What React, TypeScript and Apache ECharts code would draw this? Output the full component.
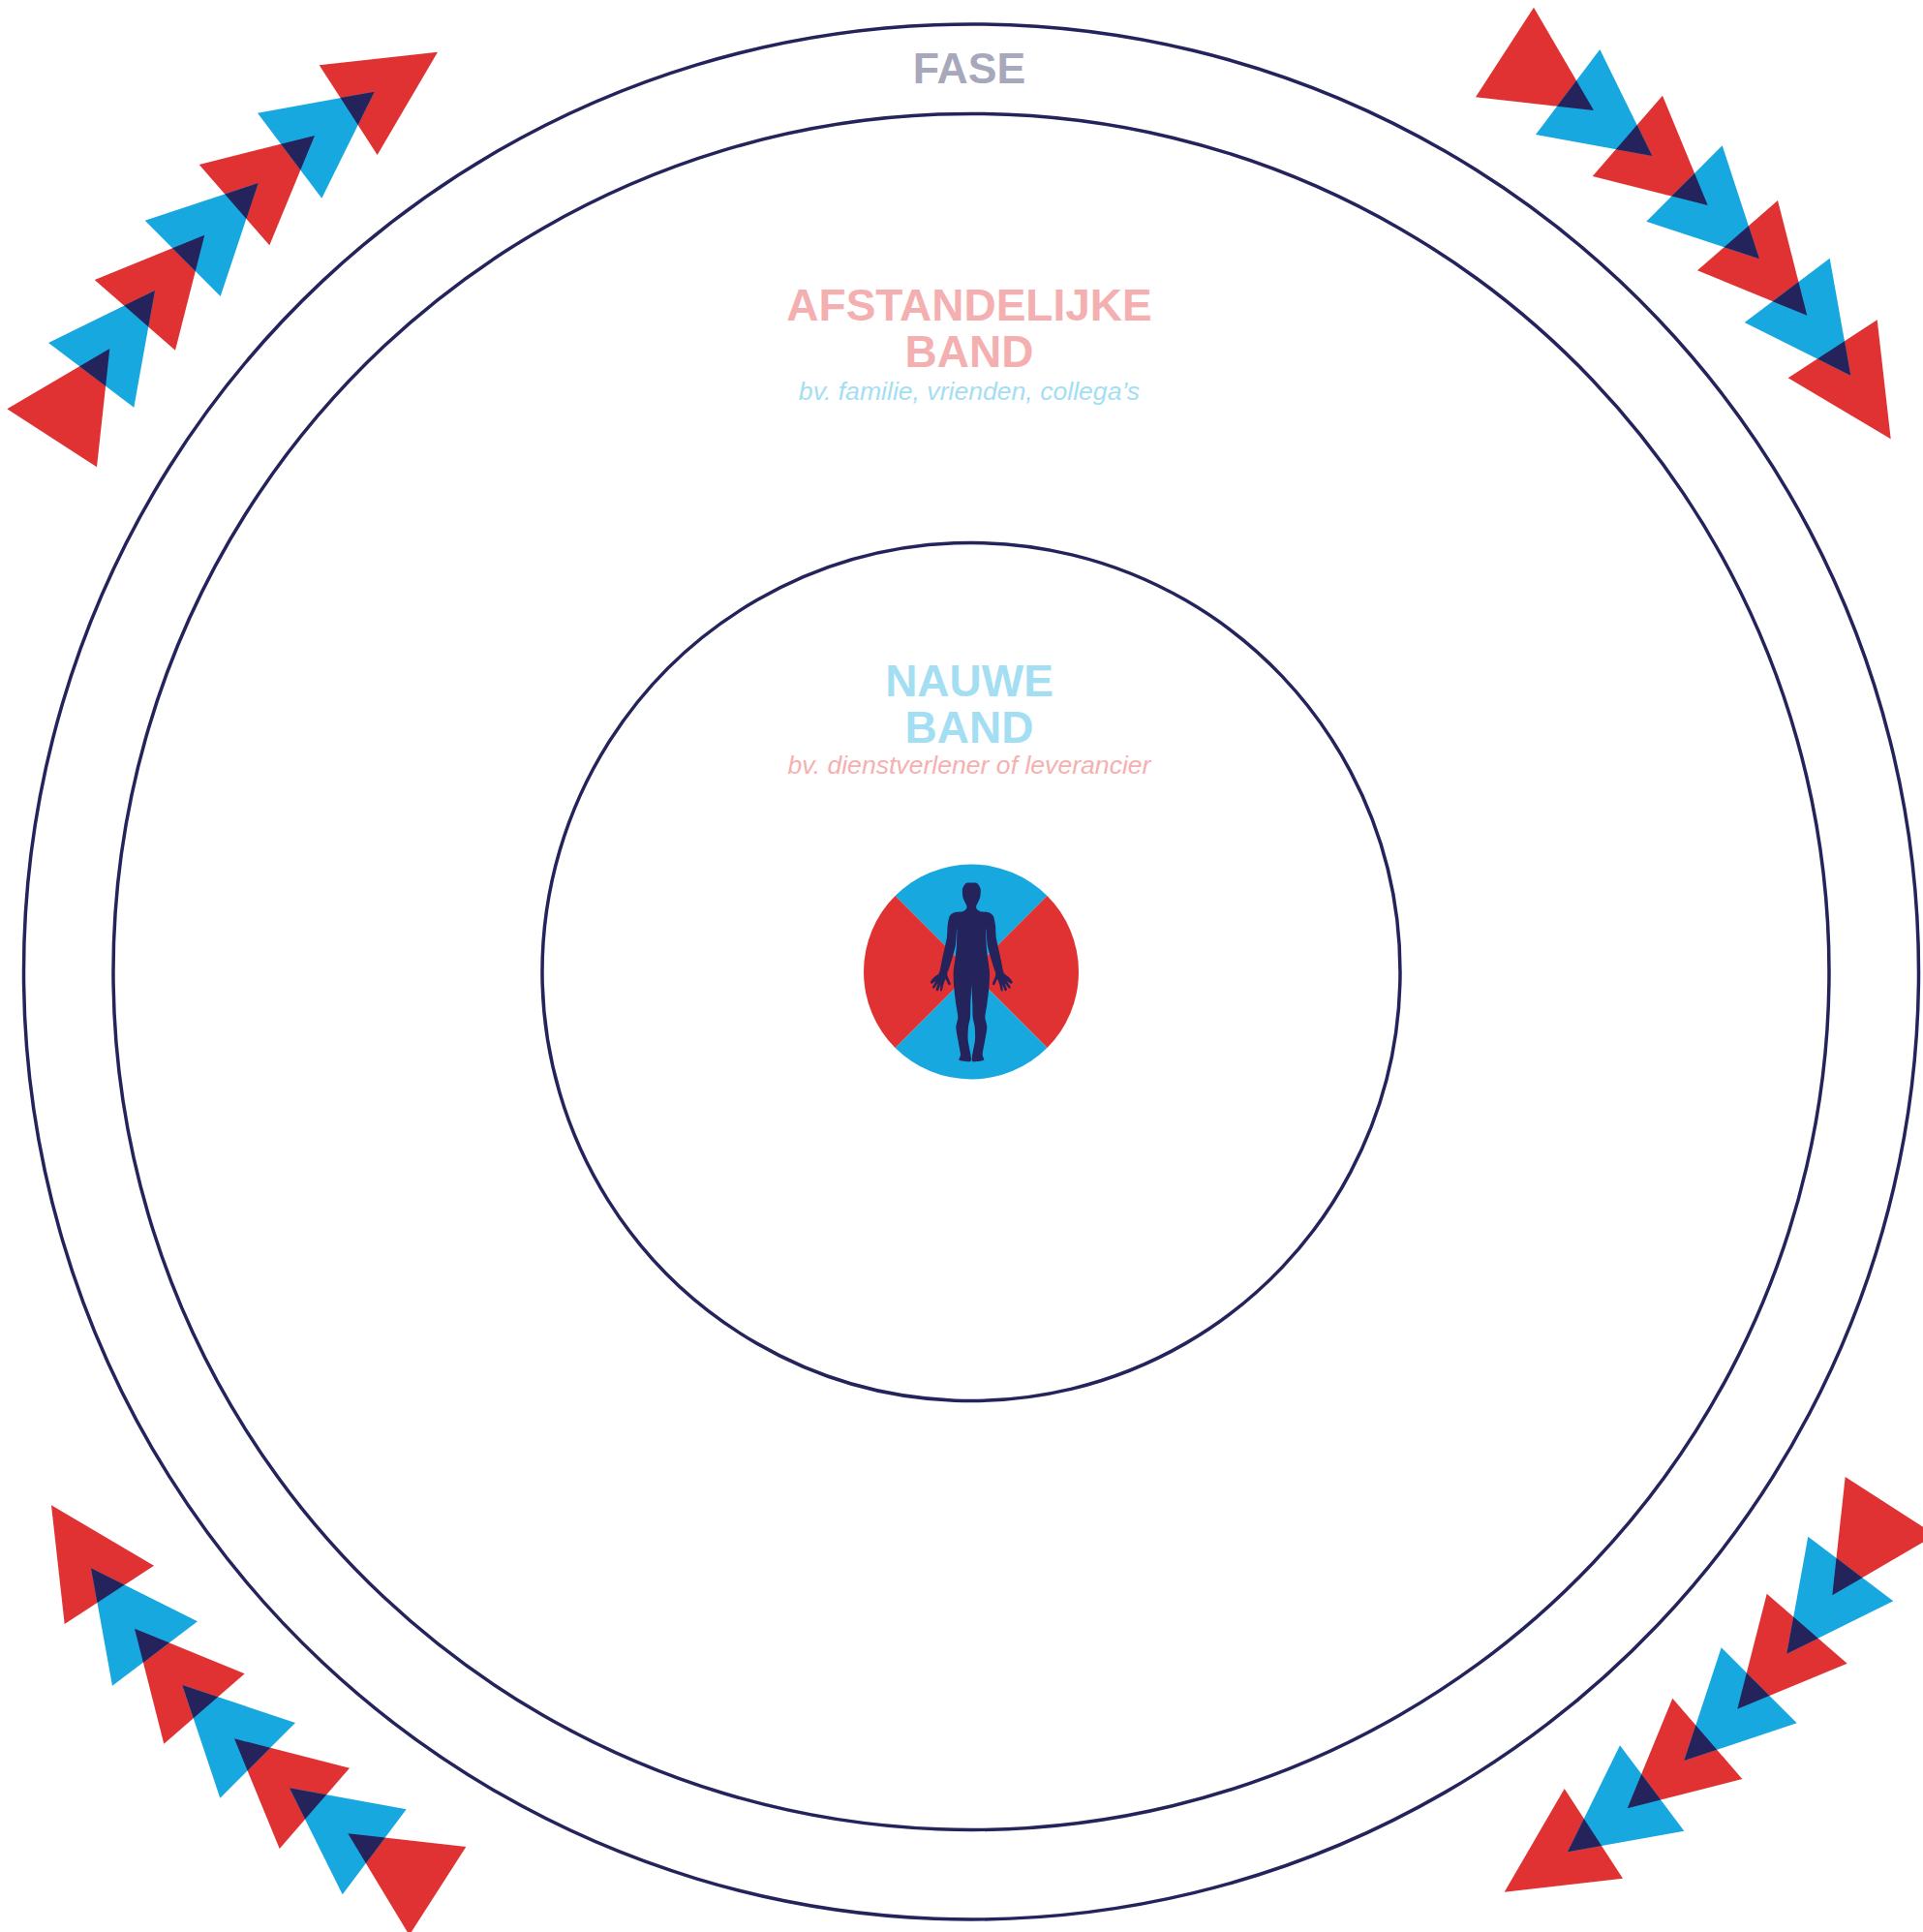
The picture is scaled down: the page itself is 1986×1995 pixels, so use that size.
import React, { useEffect, useRef } from "react";
import * as echarts from "echarts";

const WIDTH = 1986;
const HEIGHT = 1995;
const RED = "#e03233";
const BLUE = "#18a8e0";
const DARK = "#24235c";

// rings: centre x, centre y, radius
const rings = [
  [1003, 1003.5, 978.5],
  [1003, 1003.5, 886],
  [1003, 1003.5, 443],
];

const wheelSlices = [
  { name: "boven", value: 1, color: BLUE },
  { name: "rechts", value: 1, color: RED },
  { name: "onder", value: 1, color: BLUE },
  { name: "links", value: 1, color: RED },
];

// chains of triangles (page pixels)
const topLeftChain = [
  [7.3, 422.3, 100, 482.3, 113.3, 360],
  [50, 354, 138.3, 420.7, 160, 300],
  [97.7, 289, 181, 361.7, 211.3, 242.7],
  [149.7, 227.7, 227.7, 306, 266.7, 189],
  [205.7, 170, 278.3, 253.3, 325, 140],
  [266, 116.7, 332.3, 204.7, 386.7, 94.7],
  [329.7, 67.3, 389.7, 160, 452, 53.7],
];
const topRightChain = [
  [1524, 100.3, 1584, 7.7, 1646, 114],
  [1586, 139, 1652.3, 51, 1706.3, 161],
  [1644.7, 182, 1717, 98.7, 1763.7, 212],
  [1700.3, 228.7, 1778.7, 150.3, 1817, 267.3],
  [1753, 279.3, 1836, 207, 1866.3, 325.7],
  [1801.7, 333, 1889.7, 266.7, 1911.3, 387.7],
  [1846.7, 390.3, 1938.7, 330.3, 1952.7, 453.3],
];
const bottomLeftChain = [
  [53, 1554.3, 159, 1616.7, 66.7, 1677],
  [94, 1619.3, 204, 1674.3, 116, 1740.7],
  [139, 1681.7, 252.7, 1728.3, 169.3, 1800.7],
  [188.3, 1740, 305, 1779, 227.3, 1856.7],
  [242, 1795.3, 361, 1825.7, 288.7, 1909],
  [299, 1846.3, 419.7, 1868.3, 353.7, 1956.3],
  [359.3, 1893.3, 481.3, 1907, 422.7, 1998.3],
];
const bottomRightChain = [
  [1905.7, 1525, 1999, 1585, 1892.3, 1647.3],
  [1867.3, 1586.7, 1955.3, 1653.3, 1845.3, 1707.7],
  [1824.7, 1645.7, 1907.7, 1717.7, 1794.3, 1764.7],
  [1777.7, 1701.3, 1855.7, 1779.3, 1739.3, 1818],
  [1727.3, 1753.7, 1799.3, 1837, 1680.7, 1867.3],
  [1673, 1802.3, 1739.3, 1890.7, 1619, 1912.3],
  [1615.7, 1847, 1676, 1939.7, 1553.7, 1953.7],
];
const chains = [topLeftChain, topRightChain, bottomLeftChain, bottomRightChain];

const phaseLabel = ["FASE"];
const farLabels = ["AFSTANDELIJKE", "BAND"];
const farExample = ["bv. familie, vrienden, collega\u2019s"];
const nearLabels = ["NAUWE", "BAND"];
const nearExample = ["bv. dienstverlener of leverancier"];

// right half of the figure, top of the head to the crotch (3x crop of the wheel)
const figureHalf = [
  [430, 153], [448, 155], [458, 172], [457, 196], [452, 210], [445, 224], [446, 234], [458, 242],
  [484, 245], [498, 257], [504, 285], [506, 320], [512, 350], [522, 395], [530, 432], [545, 445],
  [557, 460], [553, 466], [541, 458], [551, 476], [546, 480], [534, 465], [540, 484], [534, 488],
  [526, 470], [527, 487], [522, 488], [516, 466], [510, 452], [502, 468], [497, 470], [495, 465],
  [503, 445], [505, 434], [497, 410], [488, 380], [479, 345], [476, 300], [475, 300], [476, 345],
  [480, 385], [486, 430], [484, 480], [478, 530], [472, 570], [478, 600], [472, 640], [464, 685],
  [468, 703], [434, 707], [432, 690], [441, 640], [440, 600], [434, 570], [433, 530], [431, 490],
  [430, 470],
];

function figurePath() {
  const right = figureHalf.map(([x, y]) => [860 + x / 3, 860.5 + y / 3]);
  const left = figureHalf
    .slice(1, -1)
    .reverse()
    .map(([x, y]) => [860 + (860 - x) / 3, 860.5 + y / 3]);
  const pts = right.concat(left);
  const n = pts.length;
  let d = `M${pts[0][0].toFixed(2)} ${pts[0][1].toFixed(2)}`;
  for (let i = 0; i < n; i++) {
    const p0 = pts[(i - 1 + n) % n];
    const p1 = pts[i];
    const p2 = pts[(i + 1) % n];
    const p3 = pts[(i + 2) % n];
    const k = 1 / 8;
    d += `C${(p1[0] + (p2[0] - p0[0]) * k).toFixed(2)} ${(p1[1] + (p2[1] - p0[1]) * k).toFixed(2)} ${(p2[0] - (p3[0] - p1[0]) * k).toFixed(2)} ${(p2[1] - (p3[1] - p1[1]) * k).toFixed(2)} ${p2[0].toFixed(2)} ${p2[1].toFixed(2)}`;
  }
  return d + "Z";
}

function toPoints(row: number[]) {
  return [
    [row[0], row[1]],
    [row[2], row[3]],
    [row[4], row[5]],
  ];
}

// Sutherland-Hodgman: part of triangle a inside triangle b
function clipTriangle(a: number[][], b: number[][]) {
  const area =
    (b[1][0] - b[0][0]) * (b[2][1] - b[0][1]) - (b[1][1] - b[0][1]) * (b[2][0] - b[0][0]);
  const sign = area > 0 ? 1 : -1;
  let out = a;
  for (let i = 0; i < 3; i++) {
    const p = b[i];
    const q = b[(i + 1) % 3];
    const side = (v: number[]) =>
      sign * ((q[0] - p[0]) * (v[1] - p[1]) - (q[1] - p[1]) * (v[0] - p[0]));
    const next: number[][] = [];
    for (let j = 0; j < out.length; j++) {
      const s = out[j];
      const e = out[(j + 1) % out.length];
      const ss = side(s);
      const se = side(e);
      if (ss >= 0) next.push(s);
      if (ss >= 0 !== se >= 0) {
        const t = ss / (ss - se);
        next.push([s[0] + (e[0] - s[0]) * t, s[1] + (e[1] - s[1]) * t]);
      }
    }
    out = next;
    if (!out.length) break;
  }
  return out;
}

const redTriangles = chains.flatMap((c) => c.filter((_, i) => i % 2 === 0));
const blueTriangles = chains.flatMap((c) => c.filter((_, i) => i % 2 === 1));
const overlaps = chains.flatMap((c) =>
  c.slice(1).map((row, i) => clipTriangle(toPoints(row), toPoints(c[i])).flat()),
);

function polygonSeries(rows: number[][], fill: string, z: number) {
  return {
    type: "custom",
    coordinateSystem: "cartesian2d",
    silent: true,
    z,
    data: rows.map((row) => [row[0], row[1]]),
    renderItem: (params: any, api: any) => {
      const row = rows[params.dataIndex];
      const points: number[][] = [];
      for (let i = 0; i < row.length; i += 2) {
        points.push(api.coord([row[i], row[i + 1]]));
      }
      return { type: "polygon", shape: { points }, style: { fill } };
    },
  };
}

function textItem(text: string, y: number, fontSize: number, fill: string, bold: boolean) {
  return {
    type: "text",
    z: 20,
    silent: true,
    x: 1001,
    y,
    style: {
      text,
      fill,
      fontFamily: '"Liberation Sans", Arial, sans-serif',
      fontSize,
      fontWeight: bold ? "bold" : "normal",
      fontStyle: bold ? "normal" : "italic",
      textAlign: "center",
      textVerticalAlign: "middle",
    },
  };
}

export default function App() {
  const ref = useRef<HTMLDivElement>(null);
  useEffect(() => {
    if (!ref.current) return;
    const chart = echarts.init(ref.current, null, { renderer: "svg" });
    echarts.graphic.registerShape("figure", echarts.graphic.extendPath(figurePath(), {}) as any);
    chart.setOption({
      animation: false,
      backgroundColor: "#ffffff",
      grid: { left: 0, right: 0, top: 0, bottom: 0 },
      xAxis: { type: "value", min: 0, max: WIDTH, show: false },
      yAxis: { type: "value", min: 0, max: HEIGHT, inverse: true, show: false },
      tooltip: { show: false },
      series: [
        {
          type: "custom",
          coordinateSystem: "cartesian2d",
          silent: true,
          z: 1,
          data: rings,
          renderItem: (_p: any, api: any) => {
            const c = api.coord([api.value(0), api.value(1)]);
            const r = api.size([api.value(2), 0])[0];
            return {
              type: "circle",
              shape: { cx: c[0], cy: c[1], r },
              style: { fill: "none", stroke: DARK, lineWidth: 3.5 },
            };
          },
        },
        polygonSeries(redTriangles, RED, 2),
        polygonSeries(blueTriangles, BLUE, 2),
        polygonSeries(overlaps, DARK, 3),
        {
          type: "pie",
          silent: true,
          z: 4,
          center: [1003, 1003.5],
          radius: [0, 111],
          startAngle: 135,
          label: { show: false },
          labelLine: { show: false },
          emphasis: { disabled: true },
          data: wheelSlices.map((s) => ({
            name: s.name,
            value: s.value,
            itemStyle: { color: s.color },
          })),
        },
      ],
      graphic: {
        elements: [
          { type: "figure", z: 10, silent: true, style: { fill: DARK } },
          textItem(phaseLabel[0], 70, 44.6, "#a8a8bd", true),
          textItem(farLabels[0], 314.5, 46, "#f4b0b0", true),
          textItem(farLabels[1], 362.5, 46, "#f4b0b0", true),
          textItem(farExample[0], 403.5, 26.6, "#a3def3", false),
          textItem(nearLabels[0], 702.5, 46, "#a3def3", true),
          textItem(nearLabels[1], 750.5, 46, "#a3def3", true),
          textItem(nearExample[0], 790, 26.6, "#f6b0b0", false),
        ],
      },
    } as any);
    return () => chart.dispose();
  }, []);
  return (
    <div
      ref={ref}
      style={{ position: "absolute", left: 0, top: 0, width: WIDTH, height: HEIGHT }}
    />
  );
}
